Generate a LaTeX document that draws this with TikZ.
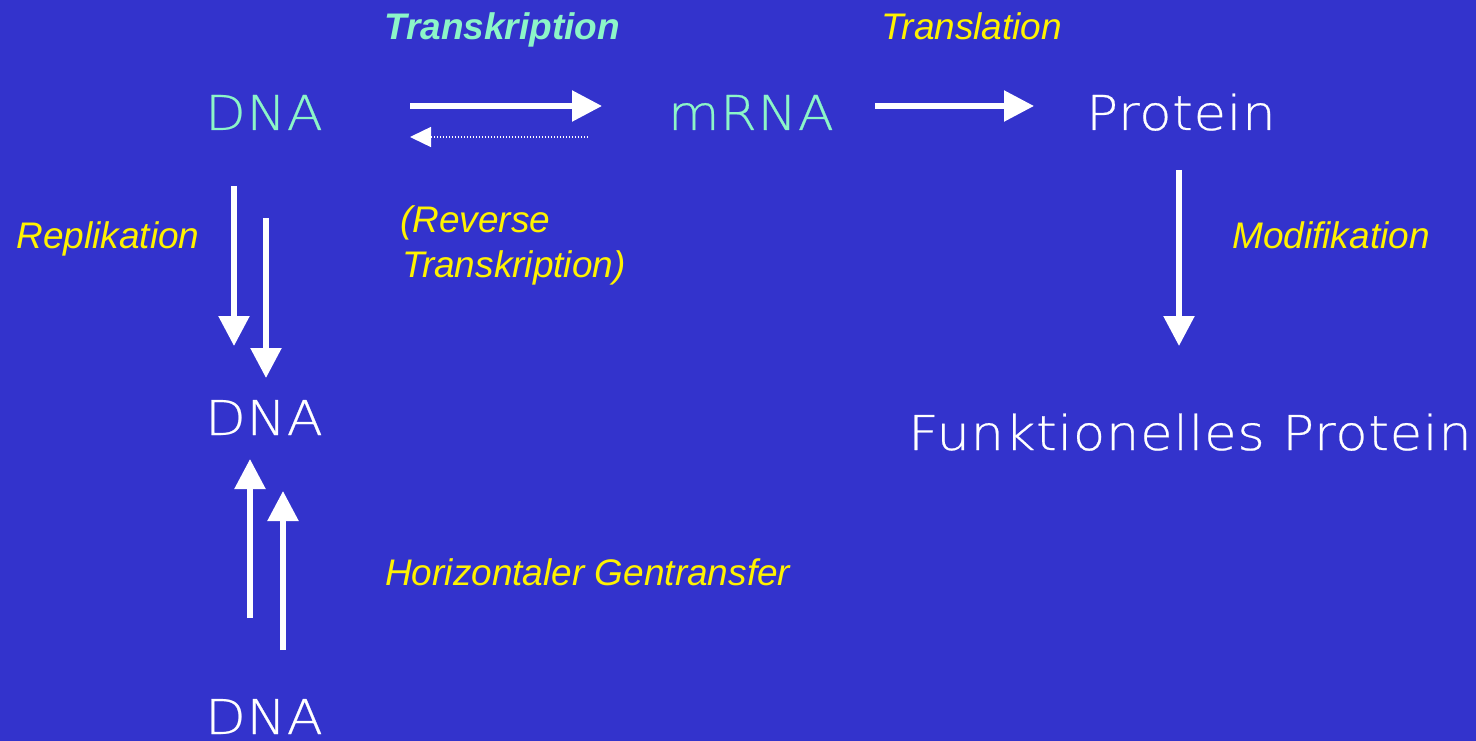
\documentclass[tikz,border=0pt]{standalone}
\usepackage{fontspec}
\usepackage{tikz}
\usetikzlibrary{arrows.meta}
\newfontfamily\thinfont{DejaVu Sans ExtraLight}[FakeStretch=1.1,LetterSpace=1.5,FakeBold=0.5]
\newfontfamily\labelfont{Liberation Sans}
\definecolor{slide}{RGB}{51,51,204}
\definecolor{aqua}{RGB}{140,245,200}
\tikzstyle{mol} = [inner sep=0,anchor=base,font=\thinfont\fontsize{48}{58}\selectfont]
\tikzstyle{proc} = [inner sep=0,anchor=base,text=yellow,font=\labelfont\itshape\fontsize{37}{44}\selectfont]
\tikzstyle{fat} = [draw=white,line width=5.5pt,-{Triangle[length=30pt,width=30pt]}]
\tikzstyle{back} = [draw=white,line width=1.4pt,dash pattern=on 1.5pt off 1.5pt,-{Triangle[length=21pt,width=20pt]}]

\begin{document}
\begin{tikzpicture}[x=1pt,y=-1pt]
    \fill[slide] (0,0) rectangle (1476,741);
    \useasboundingbox (0,0) rectangle (1476,741);

    \node[mol,text=aqua] (dnaA) at (264,130) {DNA};
    \node[mol,text=aqua] (mrna) at (751,130) {mRNA};
    \node[mol,text=white] (prot) at (1181,130) {Protein};
    \node[mol,text=white] (dnaB) at (264,435) {DNA};
    \node[mol,text=white] (dnaC) at (264,734) {DNA};
    \node[mol,text=white] (func) at (1190,450) {Funktionelles Protein};

    \node[proc,text=aqua,font=\labelfont\bfseries\itshape\fontsize{37}{44}\selectfont] (trk) at (502,40) {Transkription};
    \node[proc] (trl) at (972,40) {Translation};
    \node[proc] (rep) at (108,248) {Replikation};
    \node[proc,anchor=base west] (revA) at (400,232) {(Reverse};
    \node[proc,anchor=base west] (revB) at (402,277) {Transkription)};
    \node[proc] (mod) at (1331,248) {Modifikation};
    \node[proc,anchor=base west] (hgt) at (385,585) {Horizontaler Gentransfer};

    % DNA -> mRNA -> Protein, and back
    \draw[fat] ([shift={(146,-24)}]dnaA.base) -- ([shift={(-149,-24)}]mrna.base);
    \draw[back] ([shift={(-163,7)}]mrna.base) -- ([shift={(146,7)}]dnaA.base);
    \draw[fat] ([shift={(124,-24)}]mrna.base) -- ([shift={(-147,-24)}]prot.base);

    % replication
    \draw[fat] ([shift={(-30,56)}]dnaA.base) -- ([shift={(-30,-89)}]dnaB.base);
    \draw[fat] ([shift={(2,88)}]dnaA.base) -- ([shift={(2,-57)}]dnaB.base);

    % gene transfer
    \draw[fat] ([shift={(-14,-116)}]dnaC.base) -- ([shift={(-14,24)}]dnaB.base);
    \draw[fat] ([shift={(19,-84)}]dnaC.base) -- ([shift={(19,56)}]dnaB.base);

    \draw[fat] ([shift={(-2,40)}]prot.base) -- ([shift={(-11,-104)}]func.base);

\end{tikzpicture}
\end{document}
